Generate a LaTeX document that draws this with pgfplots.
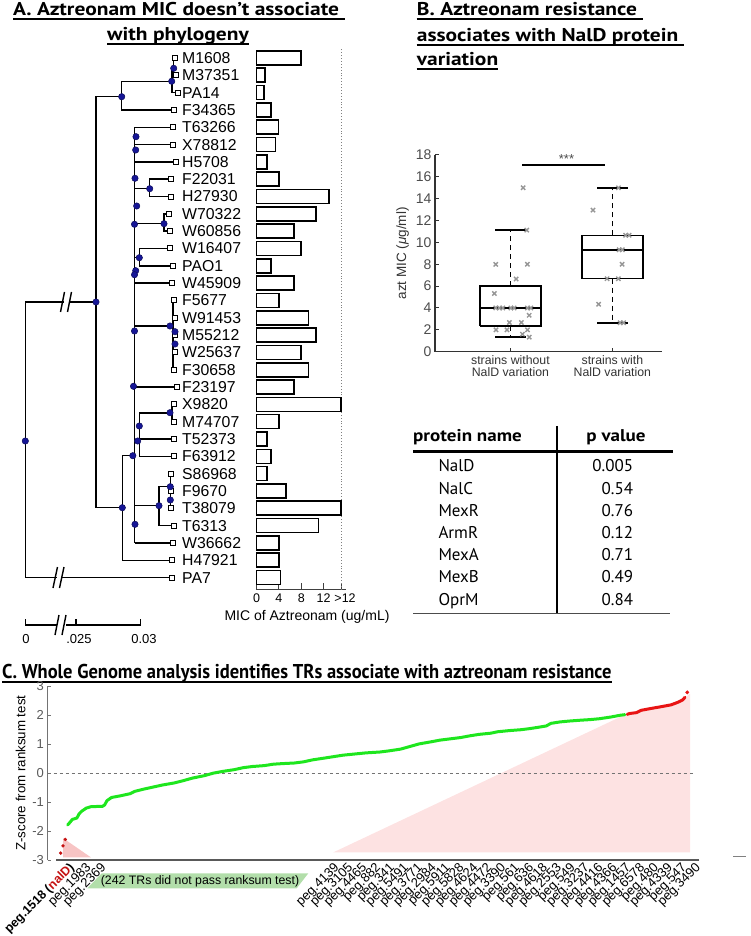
\documentclass[border=0pt]{standalone}
\usepackage{fontspec}
\setmainfont{Liberation Sans}
\newfontfamily\ptsans{PT Sans}
\usepackage{pgfplots}
\pgfplotsset{compat=1.18}
\definecolor{navy}{RGB}{22,22,150}
\definecolor{ptgreen}{RGB}{30,230,30}
\definecolor{ptred}{RGB}{232,20,20}
\definecolor{pinkR}{RGB}{253,226,226}
\definecolor{pinkL}{RGB}{247,196,196}
\definecolor{bandgreen}{RGB}{178,222,170}
\definecolor{boxgray}{RGB}{150,150,150}
\newcommand{\fs}[1]{\fontsize{#1}{#1}\selectfont}
\tikzset{tl/.style={black, line width=1.5pt, no markers}}
\newcommand{\ultitle}[4]{%
  \node[anchor=base west, inner sep=0pt, font=#3] (tt) at (#1,#2) {#4};
  \draw[line width=1.6pt] ([yshift=-3.2pt]tt.base west) -- ([yshift=-3.2pt]tt.base east);}
\newcommand{\widen}[1]{\scalebox{1.16}[1]{#1}}
\begin{document}
\begin{tikzpicture}[x=1pt,y=1pt]
\path[use as bounding box] (0,0) rectangle (750,936);

% ---------- Titles ----------
\ultitle{13}{920}{\ptsans\bfseries\fs{18.5}}{\widen{A. Aztreonam MIC doesn’t associate }}
\ultitle{107}{895}{\ptsans\bfseries\fs{18.5}}{\widen{with phylogeny}}
\ultitle{416.7}{920}{\ptsans\bfseries\fs{18.5}}{\widen{B. Aztreonam resistance }}
\ultitle{416.7}{894.3}{\ptsans\bfseries\fs{18.5}}{\widen{associates with NalD protein }}
\ultitle{416.7}{870}{\ptsans\bfseries\fs{18.5}}{\widen{variation}}
\ultitle{2}{257}{\ptsans\bfseries\fs{20}}{\scalebox{0.925}[1]{C. Whole Genome analysis identifies TRs associate with aztreonam resistance}}

% ---------- Panel A: tree (pixel coordinates) ----------
\begin{axis}[hide axis, x=1pt, y=1pt, y dir=reverse, xmin=0, xmax=200, ymin=40, ymax=650,
  anchor=center, at={(100pt,591pt)}, clip=false]
\addplot[tl] coordinates {(96,302)(25.3,302)(25.3,577.6)(172,577.6)};
\addplot[tl] coordinates {(121.7,96.7)(96,96.7)(96,507.7)(122.3,507.7)};
\addplot[tl] coordinates {(172,81.3)(121.7,81.3)(121.7,110)(174,110)};
\addplot[tl] coordinates {(173.7,68.3)(172,68.3)(172,92.6)(178,92.6)};
\addplot[tl] coordinates {(174.5,58)(173.7,58)(173.7,75.3)(175.5,75.3)};
\addplot[tl] coordinates {(134.5,455.7)(122.3,455.7)(122.3,560.3)(172,560.3)};
\addplot[tl] coordinates {(134.5,127.3)(134.5,542.9)};
\addplot[tl] coordinates {(134.5,127.3)(172.5,127.3)};
\addplot[tl] coordinates {(134.5,144.6)(173,144.6)};
\addplot[tl] coordinates {(134.5,161.9)(176,161.9)};
\addplot[tl] coordinates {(134.5,188.7)(149.7,188.7)};
\addplot[tl] coordinates {(171,179.2)(149.7,179.2)(149.7,196.6)(171,196.6)};
\addplot[tl] coordinates {(134.5,223.7)(164,223.7)};
\addplot[tl] coordinates {(169,213.9)(164,213.9)(164,231.2)(170,231.2)};
\addplot[tl] coordinates {(134.5,257.7)(139.3,257.7)};
\addplot[tl] coordinates {(170,248.5)(139.3,248.5)(139.3,265.8)(173,265.8)};
\addplot[tl] coordinates {(134.5,283.2)(172,283.2)};
\addplot[tl] coordinates {(134.5,326)(173,326)};
\addplot[tl] coordinates {(174,300.5)(173,300.5)(173,369.8)(174,369.8)};
\addplot[tl] coordinates {(134.5,387.1)(177,387.1)};
\addplot[tl] coordinates {(139.3,413)(172,413)};
\addplot[tl] coordinates {(174,404.4)(172,404.4)(172,421.7)(174,421.7)};
\addplot[tl] coordinates {(134.5,441)(139.3,441)};
\addplot[tl] coordinates {(139.3,413)(139.3,456.4)(174,456.4)};
\addplot[tl] coordinates {(139.3,439)(174,439)};
\addplot[tl] coordinates {(134.5,505.7)(159,505.7)};
\addplot[tl] coordinates {(170.3,486.7)(159,486.7)(159,525.6)(174,525.6)};
\addplot[tl] coordinates {(171,473.7)(170.3,473.7)(170.3,508.3)(171,508.3)};
\addplot[tl] coordinates {(134.5,542.9)(173,542.9)};
% scale bar
\addplot[tl, line width=1.3pt] coordinates {(25.3,619)(25.3,625)(57,625)};
\addplot[tl, line width=1.3pt] coordinates {(66,625)(140.7,625)(140.7,619)};
\addplot[tl, line width=1.3pt] coordinates {(76,625)(76,619)};
% breaks
\draw[white, line width=5pt] (axis cs:63.5,302) -- (axis cs:69.5,302);
\draw[black, line width=1.4pt] (axis cs:60.5,312) -- (axis cs:64.5,292);
\draw[black, line width=1.4pt] (axis cs:67.5,312) -- (axis cs:71.5,292);
\draw[white, line width=5pt] (axis cs:56.5,577.6) -- (axis cs:62,577.6);
\draw[black, line width=1.4pt] (axis cs:53,588) -- (axis cs:57.5,567);
\draw[black, line width=1.4pt] (axis cs:59.5,588) -- (axis cs:64,567);
\draw[black, line width=1.4pt] (axis cs:55,635) -- (axis cs:59,615);
\draw[black, line width=1.4pt] (axis cs:62,635) -- (axis cs:66,615);
\node[font=\fs{13}] at (axis cs:26,639) {0};
\node[font=\fs{13}] at (axis cs:79,639) {.025};
\node[font=\fs{13}] at (axis cs:144,639) {0.03};
% leaves
\addplot[only marks, mark=square*, mark size=2.5pt, mark options={fill=white, draw=black, line width=1pt}]
 coordinates {(174.5,58)(175.5,75.3)(178,92.6)(174,110)(172.5,127.3)(173,144.6)(176,161.9)(171,179.2)
 (171,196.6)(169,213.9)(170,231.2)(170,248.5)(173,265.8)(172,283.2)(174,300.5)(175,317.8)(175,335.1)
 (174.5,352.4)(174,369.8)(177,387.1)(174,404.4)(174,421.7)(174,439)(174,456.4)(171,473.7)(171,491)
 (171,508.3)(174,525.6)(173,542.9)(172,560.3)(172,577.6)};
% internal nodes
\addplot[only marks, mark=*, mark size=3.2pt, mark options={fill=navy, draw=navy!60!black, line width=0.5pt}]
 coordinates {(25.3,441)(96,302)(121.7,96.7)(171.7,81.3)(173.7,68.3)(136,136.7)(135.7,150)(135,178.3)
 (149.7,188.7)(136.7,206)(134.5,224.3)(164,223.7)(139.3,257.7)(135.7,270.7)(134.5,274.7)(134.5,331)
 (170,326)(175,331.7)(175,344)(133.5,386.3)(170,412.7)(139.3,426)(137.7,441)(132.8,455.7)(122.3,507.7)
 (159,505.7)(170.3,486.7)(170.3,500)(135,524.3)};
\end{axis}

\foreach \n [count=\i] in {M1608,M37351,PA14,F34365,T63266,X78812,H5708,F22031,H27930,W70322,W60856,
  W16407,PAO1,W45909,F5677,W91453,M55212,W25637,F30658,F23197,X9820,M74707,T52373,F63912,S86968,
  F9670,T38079,T6313,W36662,H47921,PA7}
  \node[anchor=west, inner sep=0pt, font=\fs{15.8}] at (182,{936-58-17.32*(\i-1)}) {\n};

% ---------- Panel A: bars ----------
\begin{axis}[scale only axis, width=89.2pt, height=540.4pt, at={(256.5pt,346.3pt)}, anchor=south west,
  xmin=0, xmax=15.93, ymin=0.3, ymax=31.5, axis y line=none, axis x line*=bottom,
  axis line style={-, line width=1.1pt, black!75},
  xtick={0,4,8,12,15.1}, xticklabels={0,4,8,12,\hspace*{8pt}>12}, tick align=inside, major tick length=7pt,
  tick style={line width=1pt, black!75}, xticklabel style={font=\fs{12.5}, yshift=-1pt}, clip=false]
\addplot[gray, dotted, line width=0.9pt] coordinates {(15.1,0.3)(15.1,31.5)};
\addplot[xbar, bar width=14pt, draw=black, fill=white, line width=1.6pt] coordinates {
 (8.0,31)(1.5,30)(1.3,29)(2.6,28)(3.9,27)(3.4,26)(1.9,25)(4.0,24)(12.9,23)(10.6,22)(6.7,21)
 (8.0,20)(2.6,19)(6.7,18)(4.0,17)(9.3,16)(10.6,15)(8.0,14)(9.3,13)(6.7,12)(15.1,11)(4.0,10)
 (1.9,9)(2.6,8)(1.9,7)(5.3,6)(15.1,5)(11.1,4)(4.0,3)(4.0,2)(4.3,1)};
\end{axis}
\node[font=\fs{14}] at (307,319) {MIC of Aztreonam (ug/mL)};

% ---------- Panel B: boxplot ----------
\begin{axis}[scale only axis, width=227.3pt, height=196.7pt, at={(435pt,584.3pt)}, anchor=south west,
  xmin=0.26, xmax=2.49, ymin=0, ymax=18, axis x line*=bottom, axis y line*=left,
  axis line style={-, line width=1.3pt, black!80},
  xtick={1,2}, xticklabels={{strains without\\NalD variation},{strains with\\NalD variation}},
  xticklabel style={align=center, font=\fs{12.3}, text=black!80},
  ytick={0,2,...,18}, yticklabel style={font=\fs{14}, text=black!70},
  /pgf/number format/assume math mode=true,
  tick align=inside, major tick length=4pt, tick style={line width=1pt, black!80},
  ylabel={azt MIC ({\itshape μ}g/ml)}, ylabel style={font=\fs{13.5}, text=black!80}, clip=false]
\addplot[black, line width=1.6pt] coordinates {(0.7,2.35)(1.3,2.35)(1.3,6.0)(0.7,6.0)(0.7,2.35)};
\addplot[black, line width=1.6pt] coordinates {(0.7,4.0)(1.3,4.0)};
\addplot[black, line width=1.6pt, dash pattern=on 5pt off 4pt] coordinates {(1,6.0)(1,11.13)};
\addplot[black, line width=1.6pt, dash pattern=on 5pt off 4pt] coordinates {(1,2.35)(1,1.32)};
\addplot[black, line width=1.9pt] coordinates {(0.85,11.13)(1.15,11.13)};
\addplot[black, line width=1.9pt] coordinates {(0.85,1.32)(1.15,1.32)};
\addplot[black, line width=1.6pt] coordinates {(1.7,6.68)(2.3,6.68)(2.3,10.65)(1.7,10.65)(1.7,6.68)};
\addplot[black, line width=1.6pt] coordinates {(1.7,9.33)(2.3,9.33)};
\addplot[black, line width=1.6pt, dash pattern=on 5pt off 4pt] coordinates {(2,10.65)(2,15.0)};
\addplot[black, line width=1.6pt, dash pattern=on 5pt off 4pt] coordinates {(2,6.68)(2,2.65)};
\addplot[black, line width=1.9pt] coordinates {(1.85,15.0)(2.15,15.0)};
\addplot[black, line width=1.9pt] coordinates {(1.85,2.65)(2.15,2.65)};
\addplot[only marks, mark=x, mark size=3pt, boxgray, line width=1.4pt] coordinates {
 (1.125,15.0)(1.16,11.13)(0.856,8.0)(1.167,8.0)(1.056,6.65)(0.843,5.33)(0.856,4)(0.891,4)(0.925,4)
 (1.004,4)(1.036,4)(1.167,4)(1.2,4)(1.184,3.33)(0.99,2.67)(1.108,2.67)(0.859,2)(0.967,2)(1.167,2)
 (1.118,1.6)(1.184,1.33)};
\addplot[only marks, mark=x, mark size=3pt, boxgray, line width=1.4pt] coordinates {
 (2.06,15.0)(1.81,12.96)(2.13,10.65)(2.164,10.65)(2.066,9.33)(2.098,9.33)(2.095,8.0)(1.948,6.68)
 (2.059,6.68)(1.865,4.34)(2.076,2.65)(2.11,2.65)};
\addplot[black, line width=1.8pt] coordinates {(1.118,17.08)(1.931,17.08)};
\node[font=\fs{13}, text=black!70] at (axis cs:1.55,17.6) {***};
\end{axis}

% ---------- Panel B: table ----------
\node[anchor=base west, inner sep=0pt, font=\ptsans\bfseries\fs{17}] at (413,494) {\scalebox{1.12}[1]{protein name}};
\node[anchor=base, inner sep=0pt, font=\ptsans\bfseries\fs{17}] at (616,494) {\scalebox{1.12}[1]{p value}};
\draw[line width=2pt] (557,510) -- (557,322.7);
\draw[line width=2.4pt] (413,484.3) -- (673.3,484.3);
\draw[line width=1.5pt, black!70] (413,322.7) -- (670,322.7);
\foreach \n/\v/\y in {NalD/0.005/464.3, NalC/0.54/441, MexR/0.76/419, ArmR/0.12/397.3,
  MexA/0.71/375, MexB/0.49/353.3, OprM/0.84/330.7}{
  \node[anchor=base west, inner sep=0pt, font=\ptsans\fs{17}] at (438.3,\y) {\n};
  \node[anchor=base east, inner sep=0pt, font=\ptsans\fs{17}] at (633.3,\y) {\v};
}

% ---------- Panel C ----------
\begin{axis}[scale only axis, width=651.8pt, height=173.7pt, at={(47.5pt,76pt)}, anchor=south west,
  xmin=-4.71, xmax=277.2, ymin=-3, ymax=3, axis x line*=bottom, axis y line*=left,
  x axis line style={-, line width=2.2pt, black!65, shorten <=8.5pt},
  y axis line style={-, line width=0.8pt, black!55},
  ytick={-3,-2,...,3}, yticklabel style={font=\fs{13}, text=black!65},
  /pgf/number format/assume math mode=true,
  tick align=inside, major tick length=3.5pt, ytick style={line width=0.8pt, black!55},
  xtick style={draw=none},
  xtick={4.3,11.5,18.0,118.8,124.8,130.8,136.8,142.8,148.9,154.9,160.9,166.9,172.9,178.9,184.9,
    190.9,196.9,203.0,209.0,215.0,221.0,227.0,233.0,239.0,245.0,251.0,257.0,263.0,269.1,275.1},
  xticklabels={{\fs{12.5}\bfseries peg.1518 (\textcolor{ptred!85!black}{nalD})},peg.1983,peg.2369,
    peg.4139,peg.3105,peg.4465,peg.882,peg.341,peg.5491,peg.3771,peg.2984,peg.5911,peg.5828,
    peg.4624,peg.4472,peg.3390,peg.561,peg.636,peg.4618,peg.2553,peg.549,peg.3237,peg.4416,
    peg.4366,peg.1457,peg.6578,peg.480,peg.4339,peg.547,peg.3490},
  xticklabel style={rotate=45, anchor=north east, font=\fs{13}, inner sep=1pt},
  ylabel={Z-score from ranksum test}, ylabel style={font=\fs{13.3}}, clip=false]
\addplot[fill=pinkR, draw=none] coordinates {(118.8,-2.74)(245.1,2.02)(250.2,2.09)(256.3,2.23)
  (264.9,2.36)(270,2.53)(273.2,2.75)(273.2,-2.74)} -- cycle;
\addplot[fill=pinkL, draw=none] coordinates {(2.1,-2.25)(14.1,-2.91)(2.1,-2.91)} -- cycle;
\addplot[black!55, dashed, line width=0.6pt] coordinates {(-4.71,0)(275.5,0)};
\addplot[ptgreen, line width=3pt, line cap=round, line join=round] coordinates {
 (4,-1.79)(5,-1.70)(6,-1.6)(8,-1.55)(9,-1.40)(10,-1.32)(12,-1.21)(14,-1.16)(17,-1.15)(19,-1.15)
 (20,-1.10)(21,-0.95)(23,-0.84)(27,-0.78)(31,-0.71)(33,-0.63)(37,-0.55)(41,-0.48)(45,-0.41)
 (50,-0.34)(54,-0.26)(58,-0.17)(63,-0.09)(67,0.0)(71,0.06)(76,0.12)(80,0.19)(84,0.23)(89,0.26)
 (93,0.31)(97,0.33)(102,0.35)(106,0.39)(110,0.46)(115,0.52)(119,0.57)(123,0.62)(128,0.66)
 (133,0.70)(139,0.73)(143,0.77)(148,0.83)(152,0.92)(156,1.01)(161,1.08)(165,1.14)(169,1.18)
 (174,1.23)(178,1.29)(182,1.34)(187,1.38)(190,1.43)(195,1.47)(200,1.50)(204,1.54)(208,1.59)
 (211,1.63)(213,1.72)(217,1.77)(221,1.80)(226,1.83)(230,1.85)(234,1.88)(239,1.94)(243,2.0)(245,2.02)};
\addplot[ptred, line width=3pt, line cap=round, line join=round] coordinates {
 (246,2.03)(247,2.06)(250,2.09)(252,2.17)(256,2.23)(261,2.30)(265,2.36)(268,2.45)(270,2.53)(271,2.62)};
\addplot[only marks, mark=*, mark size=1.7pt, ptred] coordinates {(272,2.79)};
\addplot[only marks, mark=*, mark size=1.5pt, ptred!85!black] coordinates {(1,-2.76)(2,-2.51)(3,-2.29)};
\end{axis}
\fill[bandgreen] (87.3,47.7) -- (101.7,62.7) -- (308.3,62.7) -- (296.7,47.7) -- cycle;
\node[font=\fs{12.3}] at (200,55) {(242 TRs did not pass ranksum test)};
\draw[black!50, line width=1pt] (733,79) -- (746,79);
\end{tikzpicture}
\end{document}
